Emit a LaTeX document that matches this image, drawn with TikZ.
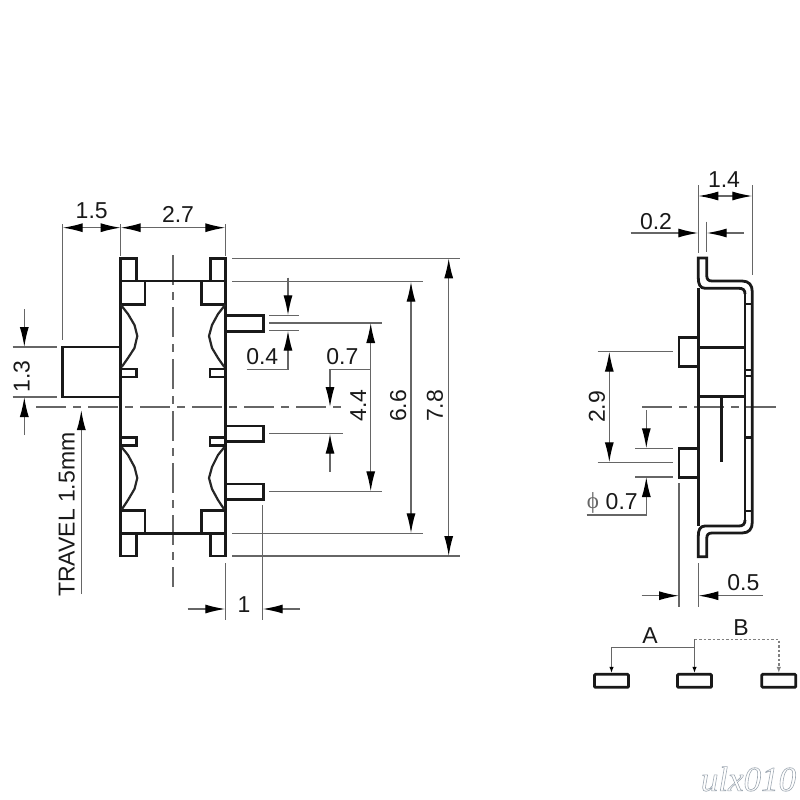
\documentclass[tikz,border=0pt]{standalone}
\usepackage{fontspec}
\setmainfont{Liberation Sans}
\newfontfamily\markfont{Liberation Serif}
\usepackage{xcolor}
\usetikzlibrary{arrows.meta}

\begin{document}
\begin{tikzpicture}[x=1pt, y=-1pt]
    \tikzstyle{part} = [draw=black!90, line width=2.8pt, line join=miter]
    \tikzstyle{clip} = [draw=black!85, line width=2.2pt, line join=round]
    \tikzstyle{dimline} = [draw=black!60, line width=1.3pt]
    \tikzstyle{dimarrow} = [dimline, >={Latex[length=20pt, width=9pt, black]}]
    \tikzstyle{centerline} = [draw=black!60, line width=1.3pt, dash pattern=on 30pt off 7pt on 8pt off 7pt]
    \tikzstyle{dimtext} = [font=\fontsize{23}{26}\selectfont, text=black!90, inner sep=0pt]
    \tikzstyle{pad} = [rectangle, draw=black!90, line width=2.8pt, rounded corners=1pt, minimum width=34pt, minimum height=13pt, inner sep=0pt]

    \useasboundingbox (0,0) rectangle (800,800);

    % Center lines
    \draw[centerline] (36,407) -- (343,407);
    \draw[centerline] (173,255) -- (173,587);
    \draw[centerline] (642,407) -- (777,407);

    % Front view body
    \draw[part] (120.7,258.3) rectangle (136.3,281);
    \draw[part] (210.3,258.3) rectangle (225.3,281);
    \draw[part] (120.7,281) rectangle (145,304.7);
    \draw[part] (201.7,281) rectangle (225.3,304.7);
    \draw[part] (120.7,510.3) rectangle (145,533.3);
    \draw[part] (201.7,510.3) rectangle (225.3,533.3);
    \draw[part] (120.7,533.3) rectangle (136.3,556);
    \draw[part] (210.3,533.3) rectangle (225.3,556);
    \draw[part] (136,281) -- (211,281);
    \draw[part] (136,533.3) -- (211,533.3);
    \draw[part] (120.7,258.3) -- (120.7,556);
    \draw[part] (225.3,258.3) -- (225.3,556);

    % Clips
    \draw[clip] (120.7,304.7) -- (128,314) -- (134.5,325) -- (137.3,336) -- (134.5,348) -- (128,358) -- (121.7,367);
    \draw[clip] (225.3,304.7) -- (218,314) -- (212,325) -- (209,336) -- (212,348) -- (218,358) -- (224.3,367);
    \draw[clip] (120.7,446) -- (128,455) -- (134.5,467) -- (137.3,478) -- (134.5,489) -- (128,500) -- (121.7,509.5);
    \draw[clip] (225.3,446) -- (218,455) -- (212,467) -- (209,478) -- (212,489) -- (218,500) -- (224.3,509.5);
    \draw[part] (120.7,369) rectangle (136.5,377);
    \draw[part] (210,369) rectangle (225.3,377);
    \draw[part] (120.7,437.7) rectangle (136.5,445.7);
    \draw[part] (210,437.7) rectangle (225.3,445.7);

    % Slider and pins
    \draw[part] (120.7,347) -- (62.7,347) -- (62.7,397) -- (120.7,397);
    \draw[part] (225.3,315.7) -- (263.3,315.7) -- (263.3,331.7) -- (225.3,331.7);
    \draw[part] (225.3,426) -- (263.3,426) -- (263.3,441.3) -- (225.3,441.3);
    \draw[part] (225.3,484) -- (263.3,484) -- (263.3,499.3) -- (225.3,499.3);

    % Extension lines, front view
    \draw[dimline] (62.7,224) -- (62.7,340);
    \draw[dimline] (120.7,224) -- (120.7,256);
    \draw[dimline] (225.3,224) -- (225.3,256);
    \draw[dimline] (12.7,347) -- (56.7,347);
    \draw[dimline] (12.7,397) -- (56.7,397);
    \draw[dimline] (232,258.3) -- (460,258.3);
    \draw[dimline] (232,281.7) -- (422.7,281.7);
    \draw[dimline] (232,533.3) -- (422.7,533.3);
    \draw[dimline] (232,556) -- (460,556);
    \draw[dimline] (269,315.3) -- (299.3,315.3);
    \draw[dimline] (269,323) -- (382.3,323);
    \draw[dimline] (269,330.7) -- (299.3,330.7);
    \draw[dimline] (269,433.7) -- (342.7,433.7);
    \draw[dimline] (269,491.3) -- (382.3,491.3);
    \draw[dimline] (262.7,505) -- (262.7,620);
    \draw[dimline] (225.3,563) -- (225.3,620);

    % Dimensions, front view
    \draw[dimarrow, <->] (62.7,227.7) -- (120.7,227.7);
    \draw[dimarrow, <->] (120.7,227.7) -- (225.3,227.7);
    \draw[dimarrow, ->] (24.3,309) -- (24.3,347);
    \draw[dimarrow, ->] (24.3,435) -- (24.3,397);
    \draw[dimarrow, ->] (81.3,594) -- (81.3,410);
    \draw[dimarrow, ->] (288,277.7) -- (288,315.3);
    \draw[dimarrow, ->] (246.7,369.3) -- (288,369.3) -- (288,330.7);
    \draw[dimarrow, <-] (330,407) -- (330,369.3) -- (370.7,369.3);
    \draw[dimarrow, ->] (330,471.7) -- (330,433.7);
    \draw[dimarrow, <->] (370.7,323) -- (370.7,491.3);
    \draw[dimarrow, <->] (411,281.7) -- (411,533.3);
    \draw[dimarrow, <->] (448.7,258.3) -- (448.7,556);
    \draw[dimarrow, ->] (187.7,609) -- (225.3,609);
    \draw[dimarrow, ->] (300,609) -- (262.7,609);

    % Labels, front view
    \node[dimtext] (w15) at (91.7,210.7) {1.5};
    \node[dimtext] (w27) at (178,214) {2.7};
    \node[dimtext, rotate=90] (h13) at (21.7,376.7) {1.3};
    \node[dimtext, rotate=90] (travel) at (66.7,514.7) {TRAVEL 1.5mm};
    \node[dimtext] (p04) at (262.3,356.7) {0.4};
    \node[dimtext] (p07) at (342.3,356.7) {0.7};
    \node[dimtext, rotate=90] (h44) at (358.3,405.7) {4.4};
    \node[dimtext, rotate=90] (h66) at (398.3,406) {6.6};
    \node[dimtext, rotate=90] (h78) at (435,406) {7.8};
    \node[dimtext] (w1) at (244,605) {1};

    % Side view
    \draw[part] (698.3,288.3) -- (698.3,526);
    \draw[part] (745,293) -- (745,521);
    \draw[part] (698.3,347.3) -- (745,347.3);
    \draw[part] (698.3,396.7) -- (745,396.7);
    \draw[part] (721.3,396.7) -- (721.3,461.7);
    \draw[part] (745,304) -- (752.3,304);
    \draw[part] (745,370) -- (752.3,370);
    \draw[part] (745,376) -- (752.3,376);
    \draw[part] (745,437.7) -- (752.3,437.7);
    \draw[part] (745,511) -- (752.3,511);
    \draw[part] (698.3,337.7) -- (679,337.7) -- (679,366.7) -- (698.3,366.7);
    \draw[part] (698.3,448.3) -- (679,448.3) -- (679,477.3) -- (698.3,477.3);

    % Side view hooks
    \draw[part] (698.3,278) -- (698.3,258) -- (706.7,258) -- (706.7,275) .. controls (706.7,279) and (708,281) .. (712,281)
        -- (742,281) .. controls (749,281) and (752.3,285) .. (752.3,292) -- (752.3,522)
        .. controls (752.3,529) and (749,533) .. (742,533) -- (712,533) .. controls (708,533) and (706.7,535) .. (706.7,539)
        -- (706.7,556.7) -- (698.3,556.7) -- (698.3,536);
    \draw[part] (698.3,278) .. controls (698.3,284) and (700,288.3) .. (705,288.3) -- (739,288.3) .. controls (743,288.3) and (745,290) .. (745,294);
    \draw[part] (698.3,536) .. controls (698.3,530) and (700,526) .. (705,526) -- (739,526) .. controls (743,526) and (745,524) .. (745,520);

    % Extension lines, side view
    \draw[dimline] (698.3,185) -- (698.3,252.7);
    \draw[dimline] (752.3,185) -- (752.3,275);
    \draw[dimline] (706.7,221.7) -- (706.7,251.7);
    \draw[dimline] (597.7,351.7) -- (673.3,351.7);
    \draw[dimline] (597.7,462.3) -- (673.3,462.3);
    \draw[dimline] (635,448.3) -- (673.3,448.3);
    \draw[dimline] (635,477) -- (673.3,477);
    \draw[dimline] (679,483) -- (679,607);
    \draw[dimline] (698.3,563) -- (698.3,607);

    % Dimensions, side view
    \draw[dimarrow, <->] (698.3,196) -- (752.3,196);
    \draw[dimarrow, ->] (630.7,233) -- (698.3,233);
    \draw[dimarrow, ->] (744,233) -- (706.7,233);
    \draw[dimarrow, <->] (609.3,351.7) -- (609.3,462.3);
    \draw[dimarrow, ->] (646.3,410) -- (646.3,448.3);
    \draw[dimarrow, ->] (586.7,515) -- (646.3,515) -- (646.3,477);
    \draw[dimarrow, ->] (641.7,595.7) -- (679,595.7);
    \draw[dimarrow, ->] (762.7,595.7) -- (698.3,595.7);

    % Labels, side view
    \node[dimtext] (w14) at (724,180) {1.4};
    \node[dimtext] (w02) at (656,221.7) {0.2};
    \node[dimtext, rotate=90] (h29) at (597,407) {2.9};
    \node[dimtext, text=black!60] (phi) at (593,502.5) {\markfont ϕ};
    \node[dimtext] (d07) at (621.7,501.7) {0.7};
    \node[dimtext] (w05) at (743.3,582.3) {0.5};

    % Switch schematic
    \node[pad] (padA) at (611.5,680.8) {};
    \node[pad] (padB) at (694.5,680.8) {};
    \node[pad] (padC) at (778.8,680.8) {};
    \coordinate (jointA) at (694.5,647.7);
    \coordinate (jointB) at (694.5,639.3);
    \tikzstyle{throwA} = [draw=black!60, line width=1.4pt, -{Latex[length=6pt, width=4.5pt, black]}]
    \tikzstyle{throwB} = [draw=black!50, line width=1.4pt, dash pattern=on 2.5pt off 2pt, -{Latex[open, length=6pt, width=4.5pt]}]
    \draw[throwA] (jointA) -- (jointA -| padA) -- (padA.north);
    \draw[throwA] (jointA) -- (padB.north);
    \draw[draw=black!60, line width=1.4pt] (jointA) -- (jointB);
    \draw[throwB] (jointB) -- (jointB -| padC) -- (padC.north);
    \node[dimtext] (labA) at (650,635.7) {A};
    \node[dimtext] (labB) at (741,627.3) {B};

    % Seller mark
    \node[font=\markfont\itshape\fontsize{35}{38}\selectfont, inner sep=0pt] (mark) at (748.5,779) {\special{pdf:code q 1 Tr 0.6 w 0.62 0.66 0.7 RG}ulx010\special{pdf:code Q}};

\end{tikzpicture}
\end{document}
